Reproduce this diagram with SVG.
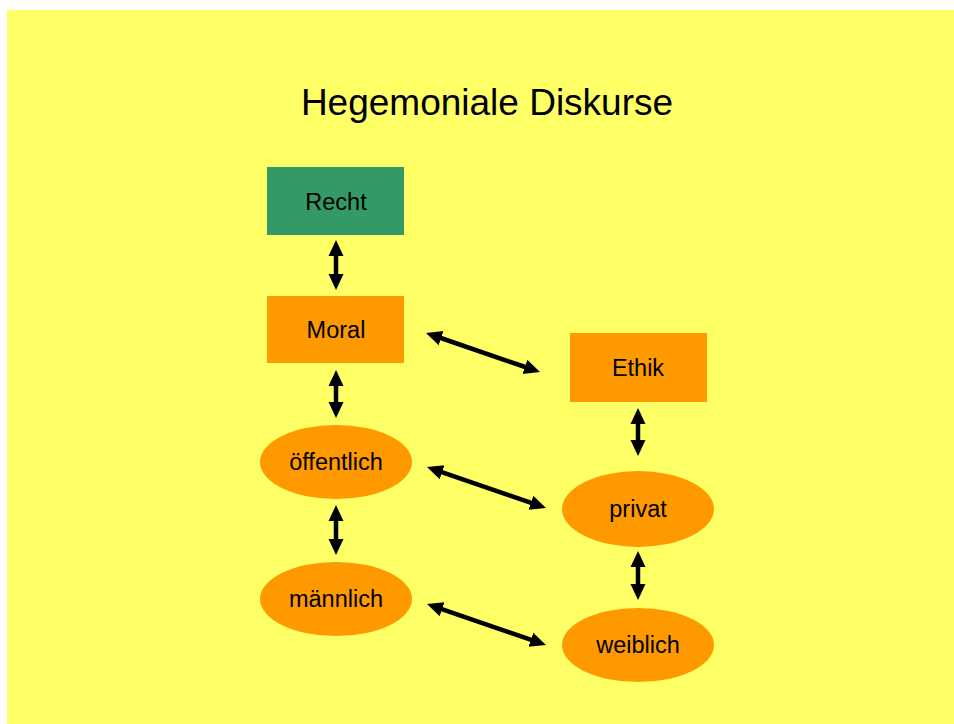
<svg xmlns="http://www.w3.org/2000/svg" width="954" height="724" viewBox="0 0 954 724">
<style>
.n text{font-family:"Liberation Sans",Arial,sans-serif;font-size:23.5px;fill:#000;text-anchor:middle}
.title{font-family:"Liberation Sans",Arial,sans-serif;font-size:37px;fill:#000;text-anchor:middle}
.or{fill:#FF9900}
.gr{fill:#339966}
#connectors line{stroke:#000;stroke-width:4.5;marker-start:url(#ah);marker-end:url(#ah)}
</style>
<defs>
<marker id="ah" markerUnits="userSpaceOnUse" markerWidth="17" markerHeight="17" viewBox="0 0 17 17" refX="5" refY="8.5" orient="auto-start-reverse">
<path d="M0,1 L16,8.5 L0,16 z" fill="#000"/>
</marker>
</defs>
<rect x="0" y="0" width="954" height="724" fill="#fff"/>
<rect x="7" y="10" width="947" height="714" fill="#FFFF66"/>
<text class="title" x="487" y="115">Hegemoniale Diskurse</text>
<g id="recht" class="n"><rect class="gr" x="267" y="167" width="137" height="68"/><text x="336" y="210">Recht</text></g>
<g id="moral" class="n"><rect class="or" x="267" y="296" width="137" height="67"/><text x="336" y="338">Moral</text></g>
<g id="ethik" class="n"><rect class="or" x="570" y="333" width="137" height="69"/><text x="638" y="376">Ethik</text></g>
<g id="oeffentlich" class="n"><ellipse class="or" cx="336" cy="462" rx="76" ry="37"/><text x="336" y="470">öffentlich</text></g>
<g id="maennlich" class="n"><ellipse class="or" cx="336" cy="599" rx="76" ry="37"/><text x="336" y="607">männlich</text></g>
<g id="privat" class="n"><ellipse class="or" cx="638" cy="509" rx="76" ry="38"/><text x="638" y="517">privat</text></g>
<g id="weiblich" class="n"><ellipse class="or" cx="638" cy="645" rx="76" ry="37"/><text x="638" y="653">weiblich</text></g>
<g id="connectors">
<line x1="336" y1="251" x2="336" y2="279"/>
<line x1="336" y1="381" x2="336" y2="407"/>
<line x1="336" y1="516" x2="336" y2="544"/>
<line x1="638" y1="419" x2="638" y2="445"/>
<line x1="638" y1="562" x2="638" y2="589"/>
<line x1="436.4" y1="336.5" x2="529.6" y2="368.5"/>
<line x1="437.4" y1="470.6" x2="535.6" y2="504.4"/>
<line x1="437.4" y1="607.6" x2="535.6" y2="641.4"/>
</g>
</svg>
